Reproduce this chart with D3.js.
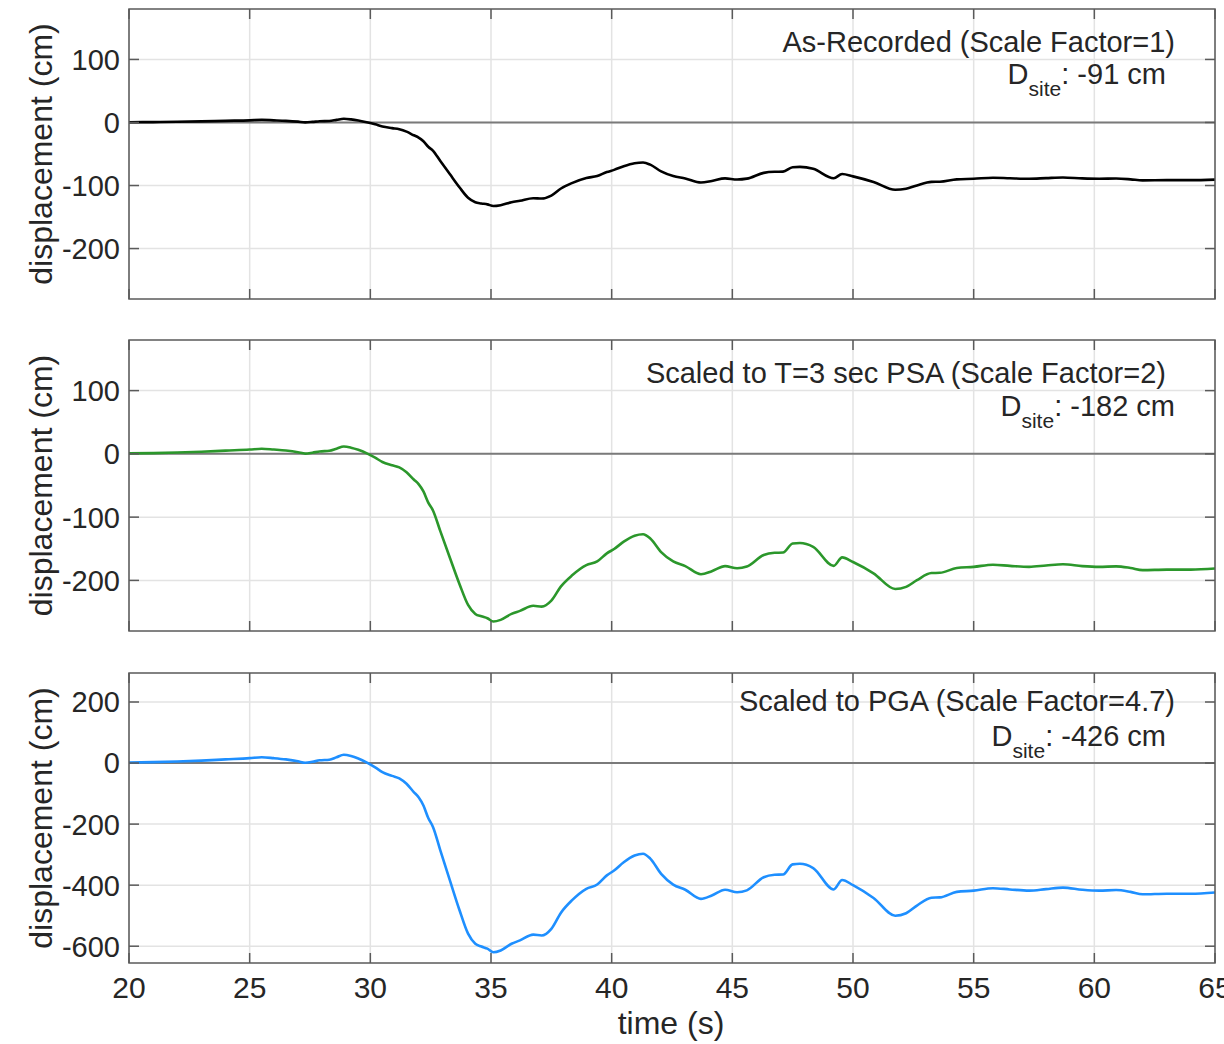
<!DOCTYPE html>
<html>
<head>
<meta charset="utf-8">
<script src="https://cdn.jsdelivr.net/npm/d3@7"></script>
<style>
  body { margin: 0; background: #fff; }
  text { font-family: "Liberation Sans", Arial, Helvetica, sans-serif; fill: #262626; }
</style>
</head>
<body>
<div class="chart"></div>
<script>
// time samples (s)
var timeSec = [20.0, 21.0, 22.0, 23.0, 24.0, 25.0, 25.5, 26.0, 26.5, 27.0, 27.3, 27.6, 27.9, 28.3, 28.6, 28.9,
  29.2, 29.5, 29.9, 30.2, 30.5, 30.9, 31.2, 31.5, 31.8, 32.0, 32.2, 32.4, 32.6, 32.9, 33.3, 33.7,
  34.05, 34.35, 34.6, 34.85, 35.1, 35.4, 35.85, 36.2, 36.75, 37.1, 37.5, 37.9, 38.35, 38.95, 39.4, 39.8,
  40.1, 40.5, 40.95, 41.3, 41.6, 42.05, 42.55, 43.05, 43.7, 44.15, 44.7, 45.2, 45.6, 46.3, 46.75, 47.1,
  47.5, 47.8, 48.35, 49.2, 49.55, 50.0, 50.85, 51.75, 52.2, 52.65, 53.25, 53.6, 54.3, 55.0, 55.8, 56.5,
  57.3, 58.0, 58.7, 59.5, 60.2, 60.9, 61.5, 62.0, 63.0, 64.0, 65.0];

// as-recorded displacement (cm)
var dispRecorded = [0.4, 0.6, 1.1, 1.7, 2.6, 3.4, 4.1, 3.4, 2.6, 1.3, 0.2, 0.9, 1.9, 2.4, 4.1, 5.8,
  4.9, 3.2, 0.0, -3.0, -6.4, -9.0, -10.7, -14.5, -20.3, -23.9, -29.7, -38.5, -44.9, -61.1, -82.3, -103.2,
  -119.4, -126.5, -128.4, -129.9, -132.5, -131.2, -126.5, -124.1, -120.1, -120.7, -116.0, -104.7, -96.2, -88.0, -85.0, -78.6,
  -75.2, -69.4, -64.7, -63.5, -66.9, -77.6, -85.0, -88.7, -95.1, -92.7, -88.7, -90.4, -89.1, -79.9, -78.2, -78.0,
  -70.9, -70.5, -73.5, -88.5, -81.8, -85.5, -94.4, -106.8, -105.1, -99.8, -94.2, -94.0, -90.2, -89.3, -87.6, -88.5,
  -89.3, -88.2, -87.2, -88.7, -89.3, -88.9, -90.2, -91.9, -91.5, -91.5, -90.6];

// scaled to T=3 sec PSA (cm)
var dispScaledPSA = [0.8, 1.2, 2.2, 3.4, 5.2, 6.8, 8.2, 6.8, 5.2, 2.6, 0.4, 1.8, 3.8, 4.8, 8.2, 11.6,
  9.8, 6.4, 0.0, -6.0, -12.8, -18.0, -21.4, -29.0, -40.6, -47.8, -59.4, -77.0, -89.8, -122.2, -164.6, -206.4,
  -238.8, -253.0, -256.8, -259.8, -265.0, -262.4, -253.0, -248.2, -240.2, -241.4, -232.0, -209.4, -192.4, -176.0, -170.0, -157.2,
  -150.4, -138.8, -129.4, -127.0, -133.8, -155.2, -170.0, -177.4, -190.2, -185.4, -177.4, -180.8, -178.2, -159.8, -156.4, -156.0,
  -141.8, -141.0, -147.0, -177.0, -163.6, -171.0, -188.8, -213.6, -210.2, -199.6, -188.4, -188.0, -180.4, -178.6, -175.2, -177.0,
  -178.6, -176.4, -174.4, -177.4, -178.6, -177.8, -180.4, -183.8, -183.0, -183.0, -181.2];

// scaled to PGA (cm)
var dispScaledPGA = [2, 3, 5, 8, 12, 16, 19, 16, 12, 6, 1, 4, 9, 11, 19, 27,
  23, 15, 0, -14, -30, -42, -50, -68, -95, -112, -139, -180, -210, -286, -385, -483,
  -559, -592, -601, -608, -620, -614, -592, -581, -562, -565, -543, -490, -450, -412, -398, -368,
  -352, -325, -303, -297, -313, -363, -398, -415, -445, -434, -415, -423, -417, -374, -366, -365,
  -332, -330, -344, -414, -383, -400, -442, -500, -492, -467, -441, -440, -422, -418, -410, -414,
  -418, -413, -408, -415, -418, -416, -422, -430, -428, -428, -424];

// tick labels
var xTicks = [20, 25, 30, 35, 40, 45, 50, 55, 60, 65];
var yTicksSmall = [-200, -100, 0, 100];
var yTicksLarge = [-600, -400, -200, 0, 200];

// panel texts
var panelTitles = ["As-Recorded (Scale Factor=1)", "Scaled to T=3 sec PSA (Scale Factor=2)", "Scaled to PGA (Scale Factor=4.7)"];
var panelDsite = [": -91 cm", ": -182 cm", ": -426 cm"];

var svgWidth = 1224;
var svgHeight = 1044;
var left = 129;
var right = 1215;

var svg = d3.select(".chart")
  .append("svg")
  .attr("width", svgWidth)
  .attr("height", svgHeight);

var xScale = d3.scaleLinear()
  .domain([20, 65])
  .range([left, right]);

// one entry per panel
var panels = [
  { top: 9, height: 290, domain: [-280, 180], ticks: yTicksSmall, values: dispRecorded, color: "#000000",
    titleEnd: 1175, titleY: 52, dEnd: 1166, dY: 84 },
  { top: 340, height: 291, domain: [-280, 180], ticks: yTicksSmall, values: dispScaledPSA, color: "#2b972b",
    titleEnd: 1166, titleY: 383, dEnd: 1175, dY: 416 },
  { top: 673, height: 290, domain: [-655, 295], ticks: yTicksLarge, values: dispScaledPGA, color: "#1e8fff",
    titleEnd: 1175, titleY: 711, dEnd: 1166, dY: 746 }
];

var tickLen = 10;

panels.forEach(function(p, i) {
  var yScale = d3.scaleLinear()
    .domain(p.domain)
    .range([p.top + p.height, p.top]);

  var g = svg.append("g");

  // grid lines
  g.selectAll(".gx")
    .data(xTicks)
    .enter()
    .append("line")
    .attr("x1", d => xScale(d))
    .attr("x2", d => xScale(d))
    .attr("y1", p.top)
    .attr("y2", p.top + p.height)
    .attr("stroke", "#e3e3e3")
    .attr("stroke-width", 1.5);

  g.selectAll(".gy")
    .data(p.ticks)
    .enter()
    .append("line")
    .attr("x1", left)
    .attr("x2", right)
    .attr("y1", d => yScale(d))
    .attr("y2", d => yScale(d))
    .attr("stroke", "#e3e3e3")
    .attr("stroke-width", 1.5);

  // zero line
  g.append("line")
    .attr("x1", left)
    .attr("x2", right)
    .attr("y1", yScale(0))
    .attr("y2", yScale(0))
    .attr("stroke", "#7a7a7a")
    .attr("stroke-width", 2);

  // displacement trace
  var line = d3.line()
    .x((d, j) => xScale(timeSec[j]))
    .y(d => yScale(d))
    .curve(d3.curveMonotoneX);

  g.append("path")
    .datum(p.values)
    .attr("fill", "none")
    .attr("stroke", p.color)
    .attr("stroke-width", 2.6)
    .attr("stroke-linejoin", "round")
    .attr("d", line);

  // box and inward ticks on all sides
  var axisColor = "#5a5a5a";
  g.append("rect")
    .attr("x", left)
    .attr("y", p.top)
    .attr("width", right - left)
    .attr("height", p.height)
    .attr("fill", "none")
    .attr("stroke", axisColor)
    .attr("stroke-width", 1.5);

  g.selectAll(".tb")
    .data(xTicks)
    .enter()
    .append("line")
    .attr("x1", d => xScale(d))
    .attr("x2", d => xScale(d))
    .attr("y1", p.top + p.height)
    .attr("y2", p.top + p.height - tickLen)
    .attr("stroke", axisColor)
    .attr("stroke-width", 1.5);

  g.selectAll(".tt")
    .data(xTicks)
    .enter()
    .append("line")
    .attr("x1", d => xScale(d))
    .attr("x2", d => xScale(d))
    .attr("y1", p.top)
    .attr("y2", p.top + tickLen)
    .attr("stroke", axisColor)
    .attr("stroke-width", 1.5);

  g.selectAll(".tl")
    .data(p.ticks)
    .enter()
    .append("line")
    .attr("x1", left)
    .attr("x2", left + tickLen)
    .attr("y1", d => yScale(d))
    .attr("y2", d => yScale(d))
    .attr("stroke", axisColor)
    .attr("stroke-width", 1.5);

  g.selectAll(".tr")
    .data(p.ticks)
    .enter()
    .append("line")
    .attr("x1", right)
    .attr("x2", right - tickLen)
    .attr("y1", d => yScale(d))
    .attr("y2", d => yScale(d))
    .attr("stroke", axisColor)
    .attr("stroke-width", 1.5);

  // y tick labels
  g.selectAll(".yl")
    .data(p.ticks)
    .enter()
    .append("text")
    .attr("x", 120)
    .attr("y", d => yScale(d))
    .attr("dy", "0.36em")
    .attr("text-anchor", "end")
    .style("font-size", "29px")
    .text(d => d);

  // y axis label
  g.append("text")
    .attr("transform", `translate(52, ${p.top + p.height / 2}) rotate(-90)`)
    .attr("text-anchor", "middle")
    .style("font-size", "32px")
    .text("displacement (cm)");

  // annotation
  g.append("text")
    .attr("x", p.titleEnd)
    .attr("y", p.titleY)
    .attr("text-anchor", "end")
    .style("font-size", "29px")
    .text(panelTitles[i]);

  var dText = g.append("text")
    .attr("x", p.dEnd)
    .attr("y", p.dY)
    .attr("text-anchor", "end")
    .style("font-size", "29px");
  dText.append("tspan").text("D");
  dText.append("tspan")
    .attr("dy", 12)
    .style("font-size", "21px")
    .text("site");
  dText.append("tspan")
    .attr("dy", -12)
    .text(panelDsite[i]);

  // x tick labels only on the bottom panel
  if (i === panels.length - 1) {
    g.selectAll(".xl")
      .data(xTicks)
      .enter()
      .append("text")
      .attr("x", d => xScale(d))
      .attr("y", 998)
      .attr("text-anchor", "middle")
      .style("font-size", "30px")
      .text(d => d);

    g.append("text")
      .attr("x", 671)
      .attr("y", 1034)
      .attr("text-anchor", "middle")
      .style("font-size", "32px")
      .text("time (s)");
  }
});
</script>
</body>
</html>
